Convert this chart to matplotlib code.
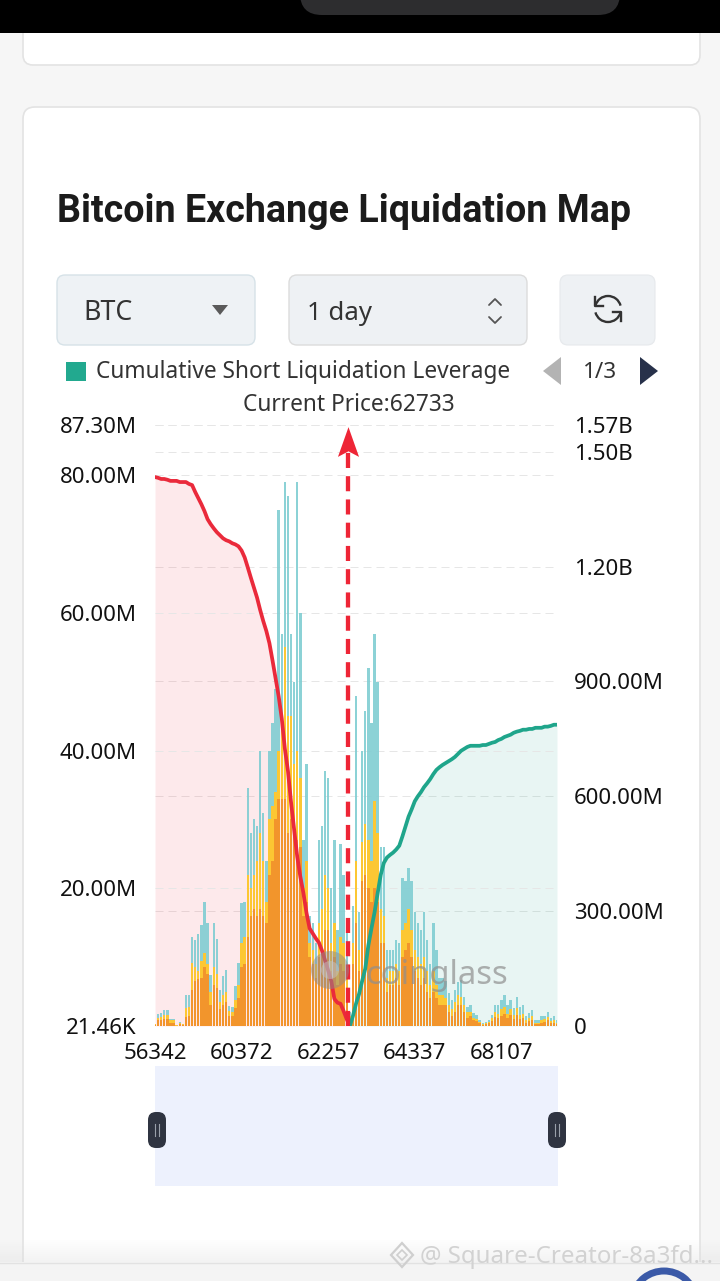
import numpy as np
import matplotlib
matplotlib.use("Agg")
import matplotlib.pyplot as plt
from matplotlib.patches import FancyBboxPatch, Rectangle, Polygon, Arc, Circle
from matplotlib.path import Path

plt.rcParams['font.family'] = ['Noto Sans', 'DejaVu Sans']

# ---------------- data ----------------
title = "Bitcoin Exchange Liquidation Map"
coin = "BTC"
period = "1 day"
legend_label = "Cumulative Short Liquidation Leverage"
page_label = "1/3"
current_price = 62733
tick_prices = [56342, 60372, 62257, 64337, 68107]
tick_index = [0, 28, 56, 84, 112]
left_ticks = [0.02146, 20, 40, 60, 80, 87.30]
left_labels = ["21.46K", "20.00M", "40.00M", "60.00M", "80.00M", "87.30M"]
right_ticks = [0, 300, 600, 900, 1200, 1500, 1570]
right_labels = ["0", "300.00M", "600.00M", "900.00M", "1.20B", "1.50B", "1.57B"]

# liquidation leverage per price level (millions USD), three stacked exchange groups
orange_m = [0.2, 0.8, 0.9, 1.0, 1.0, 0.5, 0.5, 0.05, 0.3, 0.2,
            1.3, 1.5, 5.2, 6.5, 6.8, 7.0, 8.6, 7.5, 3.0, 6.0,
            5.5, 2.5, 3.0, 3.5, 1.5, 1.4, 2.6, 4.0, 8.5, 9,
            13, 16, 17, 16, 17, 16, 15, 22, 24, 30,
            33, 33, 33, 28, 30, 29, 27, 26, 16, 18,
            10, 9, 7, 10, 11, 14, 14, 8, 10, 6,
            9, 8, 5, 1, 9, 15, 8, 21, 22, 20,
            18, 20, 18, 12, 12, 5, 6, 6, 7, 6,
            10, 11, 12, 10, 8, 7, 6, 7, 5, 4,
            5, 4, 3, 3, 3, 2, 1.5, 2, 3, 3,
            2, 1.2, 1.5, 0.8, 0.7, 0.4, 0.2, 0.3, 0.4, 0.7,
            1.3, 1.2, 1.5, 1.8, 1.2, 1.6, 1.0, 1.6, 1.0, 1.2,
            0.5, 0.7, 0.9, 0.3, 0.3, 0.5, 0.6, 0.8, 0.4, 0.5,
            0.3]
yellow_top_m = [0.3, 1.2, 1.3, 1.6, 1.6, 0.8, 0.8, 0.1, 0.4, 0.3,
                2.6, 2.8, 9.1, 8.5, 8.0, 9.5, 10.6, 9.0, 5.0, 8.5,
                7.5, 3.5, 4.5, 5.0, 2.2, 2.0, 3.8, 6.0, 12, 13,
                22, 20, 22, 24, 28, 24, 18, 30, 32, 34,
                40, 45, 55, 45, 45, 38, 40, 36, 20, 24,
                12, 11, 9, 15, 17, 22, 20, 12, 15, 8,
                13, 12, 8, 1.5, 12, 24, 11, 26.7, 29.4, 27,
                24, 32.7, 28, 17, 16, 7, 8, 8, 9, 8,
                14, 15, 17, 14, 11, 10, 9, 10, 8, 6,
                8, 6, 4.5, 4.5, 4, 3, 2.5, 3.5, 4.5, 4.2,
                3, 2, 2, 1.2, 1.0, 0.6, 0.3, 0.4, 0.6, 1.1,
                2.0, 1.8, 2.5, 2.8, 1.8, 2.4, 1.6, 2.6, 1.6, 1.8,
                0.8, 1.1, 1.4, 0.5, 0.5, 0.9, 1.0, 1.3, 0.7, 0.9,
                0.5]
total_m = [0.3, 1.7, 1.9, 2.3, 2.3, 1.0, 1.0, 0.1, 0.6, 0.3,
           4.5, 4.5, 13, 12.5, 13.3, 14.6, 18, 15, 7.4, 15,
           12.6, 5.2, 7.2, 8.1, 2.9, 2.8, 5.8, 9.1, 17.8, 18,
           34.5, 28, 30, 29, 40, 31, 24, 40, 44, 49,
           75, 57, 79, 77, 57, 50, 79, 60, 27, 38,
           16, 15, 12, 27, 29, 37, 36, 20, 27, 14,
           26.5, 22, 15, 2, 17.5, 48, 16.5, 40, 45.8, 52,
           44, 57, 50, 26, 26, 11, 11, 11, 12.5, 12,
           21.5, 21, 23, 21, 16.5, 15, 14, 16.5, 12.5, 9,
           15, 11, 7, 7, 6.5, 4.8, 3.8, 5.2, 6.4, 6.7,
           4.2, 2.8, 3, 1.9, 1.6, 0.9, 0.5, 0.6, 0.9, 1.6,
           3, 3, 3.8, 4.5, 3, 3.8, 2.6, 4.2, 2.8, 3,
           1.4, 1.9, 2.3, 0.9, 0.8, 1.4, 1.5, 2.1, 1.1, 1.4,
           0.8]

# cumulative long liquidation leverage (levels 0..63), millions
cum_long_m = [1434, 1432, 1429, 1429, 1427, 1424, 1424, 1424, 1421, 1421,
              1421, 1416, 1413, 1395, 1379, 1363, 1345, 1324, 1311, 1300,
              1290, 1282, 1274, 1269, 1266, 1261, 1258, 1253, 1242, 1224,
              1198, 1171, 1145, 1119, 1087, 1058, 1032, 1000, 955, 908,
              861, 803, 724, 666, 584, 513, 442, 390, 347, 295,
              255, 242, 229, 218, 197, 171, 145, 118, 71, 61,
              58, 39, 18, 0]
# cumulative short liquidation leverage (levels 63..130), millions
cum_short_m = [0, 26, 58, 84, 118, 150, 211, 255, 297, 347,
               395, 426, 440, 447, 453, 461, 471, 495, 521, 547,
               566, 587, 600, 611, 624, 634, 645, 658, 669, 676,
               682, 687, 692, 697, 703, 711, 719, 724, 729, 732,
               732, 732, 732, 734, 734, 737, 740, 742, 747, 750,
               755, 758, 761, 766, 769, 771, 774, 774, 776, 776,
               779, 779, 779, 782, 782, 784, 787, 787]

# ---------------- figure ----------------
W, H = 720, 1281
fig = plt.figure(figsize=(W / 100, H / 100), dpi=100)
fig.patch.set_facecolor('#f6f6f6')
renderer = fig.canvas.get_renderer()


def rect(x0, y0, x1, y1):
    return [x0 / W, 1 - y1 / H, (x1 - x0) / W, (y1 - y0) / H]


def pix_axes(z):
    a = fig.add_axes([0, 0, 1, 1], zorder=z)
    a.set_xlim(0, W)
    a.set_ylim(H, 0)
    a.axis('off')
    a.patch.set_visible(False)
    return a


def fit_text(ax, x, y, s, target_w, size0=16, **kw):
    t = ax.text(x, y, s, fontsize=size0, **kw)
    w = t.get_window_extent(renderer).width
    t.set_fontsize(size0 * target_w / w)
    return t


bg = pix_axes(0)

# cards
bg.add_patch(FancyBboxPatch((23, -40), 677, 105, boxstyle="round,pad=0,rounding_size=10",
                            fc='white', ec='#e3e3e3', lw=1.2))
bg.add_patch(FancyBboxPatch((23, 107), 677, 1250, boxstyle="round,pad=0,rounding_size=12",
                            fc='white', ec='#e3e3e3', lw=1.2))
# status bar
bg.add_patch(Rectangle((0, 0), W, 33, fc='black', ec='none'))
bg.add_patch(FancyBboxPatch((300, -40), 320, 55, boxstyle="round,pad=0,rounding_size=22",
                            fc='#2d2d2f', ec='none'))

# title
fit_text(bg, 57, 222, title, 574, size0=24, fontweight='bold', color='#1b1b1b',
         family=['Roboto', 'DejaVu Sans'], va='baseline')

# controls
bg.add_patch(FancyBboxPatch((57, 275), 198, 70, boxstyle="round,pad=0,rounding_size=8",
                            fc='#eef2f5', ec='#d6e2e8', lw=1))
fit_text(bg, 83, 320, coin, 49, size0=19, color='#333333', va='baseline')
bg.add_patch(Polygon([(212, 305), (228, 305), (220, 315)], closed=True, fc='#5a5a5a', ec='none'))

bg.add_patch(FancyBboxPatch((289, 275), 238, 70, boxstyle="round,pad=0,rounding_size=8",
                            fc='#eef1f4', ec='#dcdcdc', lw=1))
fit_text(bg, 307, 320, period, 65, size0=19, color='#333333', va='baseline')
bg.plot([489, 495, 501], [305, 299, 305], color='#555555', lw=1.3, solid_capstyle='round')
bg.plot([489, 495, 501], [317, 323, 317], color='#555555', lw=1.3, solid_capstyle='round')

bg.add_patch(FancyBboxPatch((560, 275), 95, 70, boxstyle="round,pad=0,rounding_size=8",
                            fc='#eef1f4', ec='#e6e9ec', lw=0.8))
bg.add_patch(Arc((608, 309), 26, 26, theta1=195, theta2=345, color='#333333', lw=1.7))
bg.add_patch(Arc((608, 309), 26, 26, theta1=15, theta2=165, color='#333333', lw=1.7))
bg.plot([595, 595, 603], [297, 306, 306], color='#333333', lw=1.7)
bg.plot([621, 621, 613], [321, 312, 312], color='#333333', lw=1.7)

# legend row
bg.add_patch(Rectangle((66, 362), 20, 19, fc='#22a98f', ec='none'))
fit_text(bg, 96, 378, legend_label, 413, size0=16, color='#333333', va='baseline')
bg.add_patch(Polygon([(543, 371), (561, 357), (561, 385)], closed=True, fc='#b3b3b3', ec='none'))
fit_text(bg, 600, 378, page_label, 34, size0=16, color='#333333', va='baseline', ha='center')
bg.add_patch(Polygon([(640, 357), (658, 371), (640, 385)], closed=True, fc='#27314a', ec='none'))

fit_text(bg, 349, 411, f"Current Price:{current_price}", 212, size0=16, color='#333333',
         va='baseline', ha='center')

# data zoom slider
bg.add_patch(Rectangle((155, 1066), 403, 120, fc='#edf1fd', ec='none'))

# bottom
for k in range(12):
    bg.add_patch(Rectangle((0, 1238 + 2 * k), W, 2, fc='#dcdcdc', ec='none', alpha=0.03 * k))
bg.add_patch(Rectangle((0, 1262), W, 19, fc='#f4f4f4', ec='none'))
bg.plot([0, W], [1262.5, 1262.5], color='#e2e2e2', lw=1)
bg.add_patch(Arc((664, 1300), 62, 58, theta1=190, theta2=350, color='#3b5aa8', lw=5))

# ---------------- chart ----------------
box = rect(155, 425, 557, 1026)
ax_fill = fig.add_axes(box, zorder=1)
ax_bar = fig.add_axes(box, zorder=2)
ax_line = fig.add_axes(box, zorder=3)

x_all = np.arange(len(total_m))
x_long = np.arange(len(cum_long_m))
x_short = np.arange(len(cum_long_m) - 1, len(cum_long_m) - 1 + len(cum_short_m))

for a in (ax_fill, ax_bar, ax_line):
    a.set_xlim(0, len(total_m) - 1)
    a.patch.set_visible(False)
    for s in a.spines.values():
        s.set_visible(False)
    a.tick_params(length=0)

grid_kw = dict(color='#e6e6e6', lw=0.72, ls=(0, (8, 5)))

ax_fill.set_ylim(0, right_ticks[-1])
ax_fill.set_yticks(right_ticks)
ax_fill.tick_params(labelleft=False, labelbottom=False)
ax_fill.set_xticks([])
ax_fill.grid(axis='y', **grid_kw)
ax_fill.set_axisbelow(True)
ax_fill.fill_between(x_long, cum_long_m, 0, color='#f0283c', alpha=0.1, lw=0)
ax_fill.fill_between(x_short, cum_short_m, 0, color='#21a68d', alpha=0.1, lw=0)

orange = np.array(orange_m)
ytop = np.array(yellow_top_m)
total = np.array(total_m)
ax_bar.set_ylim(0, left_ticks[-1])
ax_bar.set_yticks(left_ticks)
ax_bar.set_yticklabels(left_labels)
ax_bar.set_xticks(tick_index)
ax_bar.set_xticklabels([str(p) for p in tick_prices])
ax_bar.tick_params(axis='y', pad=13, labelsize=16, labelcolor='#111111')
ax_bar.tick_params(axis='x', pad=12, labelsize=16, labelcolor='#111111')
ax_bar.grid(axis='y', **grid_kw)
ax_bar.set_axisbelow(True)
bw = 0.78
ax_bar.bar(x_all, orange, width=bw, color='#f2952c', lw=0)
ax_bar.bar(x_all, ytop - orange, bottom=orange, width=bw, color='#fcc733', lw=0)
ax_bar.bar(x_all, total - ytop, bottom=ytop, width=bw, color='#80cdd2', alpha=0.9, lw=0)

ax_line.set_ylim(0, right_ticks[-1])
ax_line.yaxis.tick_right()
ax_line.set_yticks(right_ticks)
ax_line.set_yticklabels(right_labels)
ax_line.tick_params(axis='y', pad=12, labelsize=16, labelcolor='#111111')
ax_line.set_xticks([])
ax_line.plot(x_long, cum_long_m, color='#ea2a3b', lw=2.7, solid_joinstyle='round',
             solid_capstyle='round')
ax_line.plot(x_short, cum_short_m, color='#1fa58b', lw=2.7, solid_joinstyle='round',
             solid_capstyle='round')

# current price marker
xp = np.interp(current_price, tick_prices, tick_index)
tr = ax_line.get_xaxis_transform()
ax_line.plot([xp, xp], [0, 0.955], transform=tr, color='#ee2536', lw=3.1,
             ls=(0, (3.5, 1.9)), clip_on=False)
arrow = Path([(0, 1.4), (-0.85, -1), (0, -0.55), (0.85, -1), (0, 1.4)],
             [Path.MOVETO, Path.LINETO, Path.LINETO, Path.LINETO, Path.CLOSEPOLY])
ax_line.plot([xp], [0.9676], transform=tr, marker=arrow, markersize=25, color='#ee2536',
             mew=0, clip_on=False)

# ---------------- overlay ----------------
top = pix_axes(10)
top.add_patch(Circle((330, 970), 19, fc='#8c8c8c', ec='none', alpha=0.5))
top.add_patch(Circle((330, 970), 9, fc='#c4c4c4', ec='none', alpha=0.5))
fit_text(top, 365, 975, "coinglass", 143, size0=20, fontweight='bold', color='#8f8f8f',
         alpha=0.7, va='center')

# slider handles
for hx in (157, 557):
    top.add_patch(FancyBboxPatch((hx - 9, 1112), 18, 36, boxstyle="round,pad=0,rounding_size=8",
                                 fc='#2f3441', ec='none'))
    top.plot([hx - 2, hx - 2], [1124, 1136], color='#9aa0aa', lw=0.8)
    top.plot([hx + 2, hx + 2], [1124, 1136], color='#9aa0aa', lw=0.8)

# share watermark
top.add_patch(Polygon([(402, 1243), (413, 1255), (402, 1267), (391, 1255)], closed=True,
                      fc='none', ec='#cfcfcf', lw=1.6))
top.add_patch(Polygon([(402, 1250), (407, 1255), (402, 1260), (397, 1255)], closed=True,
                      fc='none', ec='#cfcfcf', lw=1.2))
fit_text(top, 420, 1263, "@ Square-Creator-8a3fd...", 292, size0=16, color='#d2d2d2',
         va='baseline')

fig.savefig("out.png", dpi=100, facecolor=fig.get_facecolor())
